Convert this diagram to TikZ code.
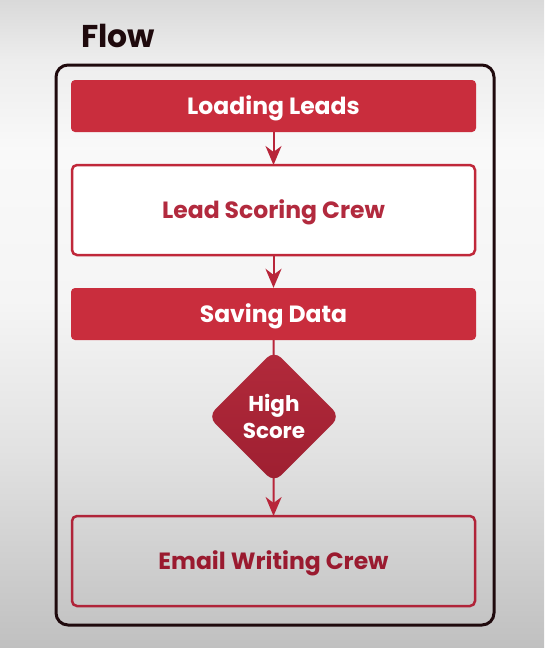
\documentclass[tikz,border=0pt]{standalone}
\usepackage{fontspec}
\setmainfont{Poppins}
\usetikzlibrary{shapes.geometric,arrows.meta}

\definecolor{pagebot}{HTML}{C0C0C0}
\definecolor{pagelow}{HTML}{E2E2E2}
\definecolor{pagemid}{HTML}{F5F5F5}
\definecolor{pagehi}{HTML}{F9F9F9}
\definecolor{pagetop}{HTML}{EDEDED}
\definecolor{pageedge}{HTML}{D9D9D9}
\definecolor{frameink}{HTML}{1F0A0D}
\definecolor{stepred}{HTML}{C92D3D}
\definecolor{crewline}{HTML}{C0283A}
\definecolor{crewtext}{HTML}{B22A3E}
\definecolor{lastline}{HTML}{B02439}
\definecolor{lasttext}{HTML}{9A1A2F}
\definecolor{gatetop}{HTML}{B22A3B}
\definecolor{gatebot}{HTML}{9E1F31}
\definecolor{linkred}{HTML}{B8263A}

% page background, light in the upper part and greyer towards the bottom
\pgfdeclareverticalshading{pageshade}{100bp}{%
  color(0bp)=(pagebot); color(25bp)=(pagebot); color(40.3bp)=(pagelow);
  color(51.9bp)=(pagemid); color(63.4bp)=(pagehi); color(70.4bp)=(pagetop);
  color(75bp)=(pageedge); color(100bp)=(pageedge)}

% paper below the connectors, connectors below the boxes
\pgfdeclarelayer{paper}
\pgfdeclarelayer{links}
\pgfsetlayers{paper,links,main}

\tikzset{
  flowframe/.style={draw=frameink, line width=3pt, rounded corners=12pt},
  boxtext/.style={font=\fontsize{23.5}{28}\selectfont\bfseries,
    text height=16.5pt, text depth=0pt},
  stepbar/.style={boxtext, fill=stepred, draw=none, rounded corners=4pt,
    minimum width=405pt, minimum height=52pt, inner sep=0pt, text=white},
  crewbox/.style={boxtext, fill=white, draw=crewline, line width=2.5pt,
    rounded corners=5pt, minimum width=403pt, minimum height=90pt,
    inner sep=0pt, text=crewtext},
  lastbox/.style={boxtext, draw=lastline, line width=2.5pt, rounded corners=5pt,
    minimum width=403pt, minimum height=90pt, inner sep=0pt, text=lasttext},
  gate/.style={diamond, aspect=1, minimum width=132pt, minimum height=132pt,
    inner sep=0pt, rounded corners=10pt, top color=gatetop, bottom color=gatebot,
    draw=none, text=white, align=center,
    font=\fontsize{21.5}{26.5}\selectfont\bfseries, text depth=-9pt},
  link/.style={draw=linkred, line width=2pt},
  linkarrow/.style={link, -{Stealth[length=19pt, width=16pt, inset=6pt]}},
}

\begin{document}
\begin{tikzpicture}[x=1pt, y=-1pt]
  \useasboundingbox (0,0) rectangle (544,648);
  \begin{pgfonlayer}{paper}
    \shade[shading=pageshade] (0,0) rectangle (544,648);
  \end{pgfonlayer}

  \node[anchor=base west, text=frameink, font=\fontsize{31.5}{36}\selectfont\bfseries,
        inner sep=0pt] (title) at (81,47.5) {Flow};

  \draw[flowframe] (56,65) rectangle (494,625);

  \node[stepbar] (load) at (273.5,106) {Loading Leads};
  \node[crewbox] (score) at (273.5,210) {Lead Scoring Crew};
  \node[stepbar] (save) at (273.5,314) {Saving Data};
  \node[gate] (high) at (274,416.5) {High\\Score};
  \node[lastbox] (email) at (273.5,561) {Email Writing Crew};

  \begin{pgfonlayer}{links}
    \draw[linkarrow] (load.south) -- ([yshift=-1.25pt]score.north);
    \draw[linkarrow] ([yshift=1.25pt]score.south) -- (save.north);
    \draw[link] (save.south) -- (high.center);
    \draw[linkarrow] (high.center) -- ([yshift=-1.25pt]email.north);
  \end{pgfonlayer}
\end{tikzpicture}
\end{document}
